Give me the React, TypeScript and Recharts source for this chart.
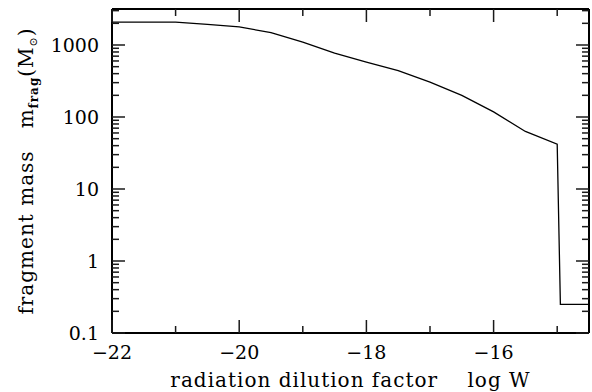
import { LineChart, Line, XAxis, YAxis, Label } from 'recharts';

// log W (radiation dilution factor) and fragment mass in solar masses
const logW = [-22, -21.5, -21, -20.5, -20, -19.5, -19, -18.5, -18, -17.5, -17, -16.5, -16, -15.5, -15, -14.95, -14.5];
const fragMass = [2080, 2080, 2080, 1940, 1780, 1490, 1100, 770, 580, 440, 305, 200, 118, 63, 42, 0.25, 0.25];

const xTicks = [-22, -21, -20, -19, -18, -17, -16, -15];
const xLabeled = [-22, -20, -18, -16];
const yDecades = [0.1, 1, 10, 100, 1000];
const yLabels = ['0.1', '1', '10', '100', '1000'];

const X_DOMAIN: [number, number] = [-22, -14.5];
const Y_DOMAIN: [number, number] = [0.1, 3162];

const data = logW.map((x, i) => ({ x, m: fragMass[i] }));

// every log tick (1..9 per decade) inside the domain
const yTicks = yDecades
  .flatMap((d) => [1, 2, 3, 4, 5, 6, 7, 8, 9].map((k) => +(d * k).toPrecision(3)))
  .filter((v) => v <= Y_DOMAIN[1]);

const FONT = '"DejaVu Serif", serif';
const FS = 19;
const MAJOR = 13;
const MINOR = 7;
const TICK_COLOR = '#1a1a1a';

const fmtX = (v: number) => (v < 0 ? '\u2212' + Math.abs(v) : String(v));
const isDecade = (v: number) => yDecades.some((d) => Math.abs(d - v) < 1e-9);

// inward tick mark from the axis point (x, y)
function Mark({ x, y, dx, dy }: any) {
  return (
    <g>
      <path d={`M${x},${y}l${dx},${dy}`} stroke={TICK_COLOR} strokeWidth={1.5} fill="none" />
    </g>
  );
}

function BottomTick({ x, y, payload }: any) {
  const major = xLabeled.includes(payload.value);
  return (
    <g>
      <Mark x={x} y={y} dx={0} dy={-(major ? MAJOR : MINOR)} />
      {major && (
        <text x={x} y={y + 26} textAnchor="middle" fontFamily={FONT} fontSize={FS} fill="#000">
          {fmtX(payload.value)}
        </text>
      )}
    </g>
  );
}

function TopTick({ x, y, payload }: any) {
  const major = xLabeled.includes(payload.value);
  return <Mark x={x} y={y} dx={0} dy={major ? MAJOR : MINOR} />;
}

function LeftTick({ x, y, payload }: any) {
  const major = isDecade(payload.value);
  const idx = yDecades.findIndex((d) => Math.abs(d - payload.value) < 1e-9);
  return (
    <g>
      <Mark x={x} y={y} dx={major ? MAJOR : MINOR} dy={0} />
      {major && (
        <text x={x - 13} y={y + 7} textAnchor="end" fontFamily={FONT} fontSize={FS} fill="#000">
          {yLabels[idx]}
        </text>
      )}
    </g>
  );
}

function RightTick({ x, y, payload }: any) {
  const major = isDecade(payload.value);
  return <Mark x={x} y={y} dx={-(major ? MAJOR : MINOR)} dy={0} />;
}

function XTitle({ viewBox }: any) {
  const cx = viewBox.x + viewBox.width / 2;
  return (
    <text x={cx} y={viewBox.y + 54} textAnchor="middle" fontFamily={FONT} fontSize={20} letterSpacing={1} fill="#000" style={{ whiteSpace: 'pre' }}>
      {'radiation dilution factor    log W'}
    </text>
  );
}

function YTitle({ viewBox }: any) {
  const cy = viewBox.y + viewBox.height / 2;
  const bx = 33;
  return (
    <text
      x={bx}
      y={cy}
      transform={`rotate(-90 ${bx} ${cy})`}
      textAnchor="middle"
      fontFamily={FONT}
      fontSize={20}
      letterSpacing={1}
      fill="#000"
      style={{ whiteSpace: 'pre' }}
    >
      <tspan>{'fragment mass   m'}</tspan>
      <tspan fontSize={12} fontWeight="bold" dy={5}>frag</tspan>
      <tspan dy={-5}>(M</tspan>
      <tspan fontSize={11} dy={4}>{'\u2299'}</tspan>
      <tspan dy={-4}>)</tspan>
    </text>
  );
}

export default function App() {
  const axisLine = { stroke: '#000', strokeWidth: 2 };
  return (
    <div style={{ position: 'absolute', left: 0, top: 0, width: 592, height: 392, background: '#fff' }}>
      <LineChart width={592} height={392} data={data} margin={{ top: 8, right: 2, bottom: 0, left: 0 }}>
        <XAxis
          dataKey="x"
          type="number"
          domain={X_DOMAIN}
          ticks={xTicks}
          interval={0}
          allowDataOverflow
          height={59}
          axisLine={axisLine}
          tickLine={false}
          tickSize={0}
          tickMargin={0}
          tick={(p: any) => <BottomTick x={p.x} y={p.y} payload={p.payload} />}
        >
          <Label content={<XTitle />} />
        </XAxis>
        <XAxis
          xAxisId="t"
          orientation="top"
          dataKey="x"
          type="number"
          domain={X_DOMAIN}
          ticks={xTicks}
          interval={0}
          allowDataOverflow
          height={1}
          axisLine={axisLine}
          tickLine={false}
          tickSize={0}
          tickMargin={0}
          tick={(p: any) => <TopTick x={p.x} y={p.y} payload={p.payload} />}
        />
        <YAxis
          type="number"
          scale="log"
          domain={Y_DOMAIN}
          ticks={yTicks}
          interval={0}
          allowDataOverflow
          width={112}
          axisLine={axisLine}
          tickLine={false}
          tickSize={0}
          tickMargin={0}
          tick={(p: any) => <LeftTick x={p.x} y={p.y} payload={p.payload} />}
        >
          <Label content={<YTitle />} />
        </YAxis>
        <YAxis
          yAxisId="r"
          orientation="right"
          type="number"
          scale="log"
          domain={Y_DOMAIN}
          ticks={yTicks}
          interval={0}
          allowDataOverflow
          width={1}
          axisLine={axisLine}
          tickLine={false}
          tickSize={0}
          tickMargin={0}
          tick={(p: any) => <RightTick x={p.x} y={p.y} payload={p.payload} />}
        />
        <Line
          dataKey="m"
          type="linear"
          stroke="#000"
          strokeWidth={1.3}
          dot={false}
          isAnimationActive={false}
        />
      </LineChart>
    </div>
  );
}
